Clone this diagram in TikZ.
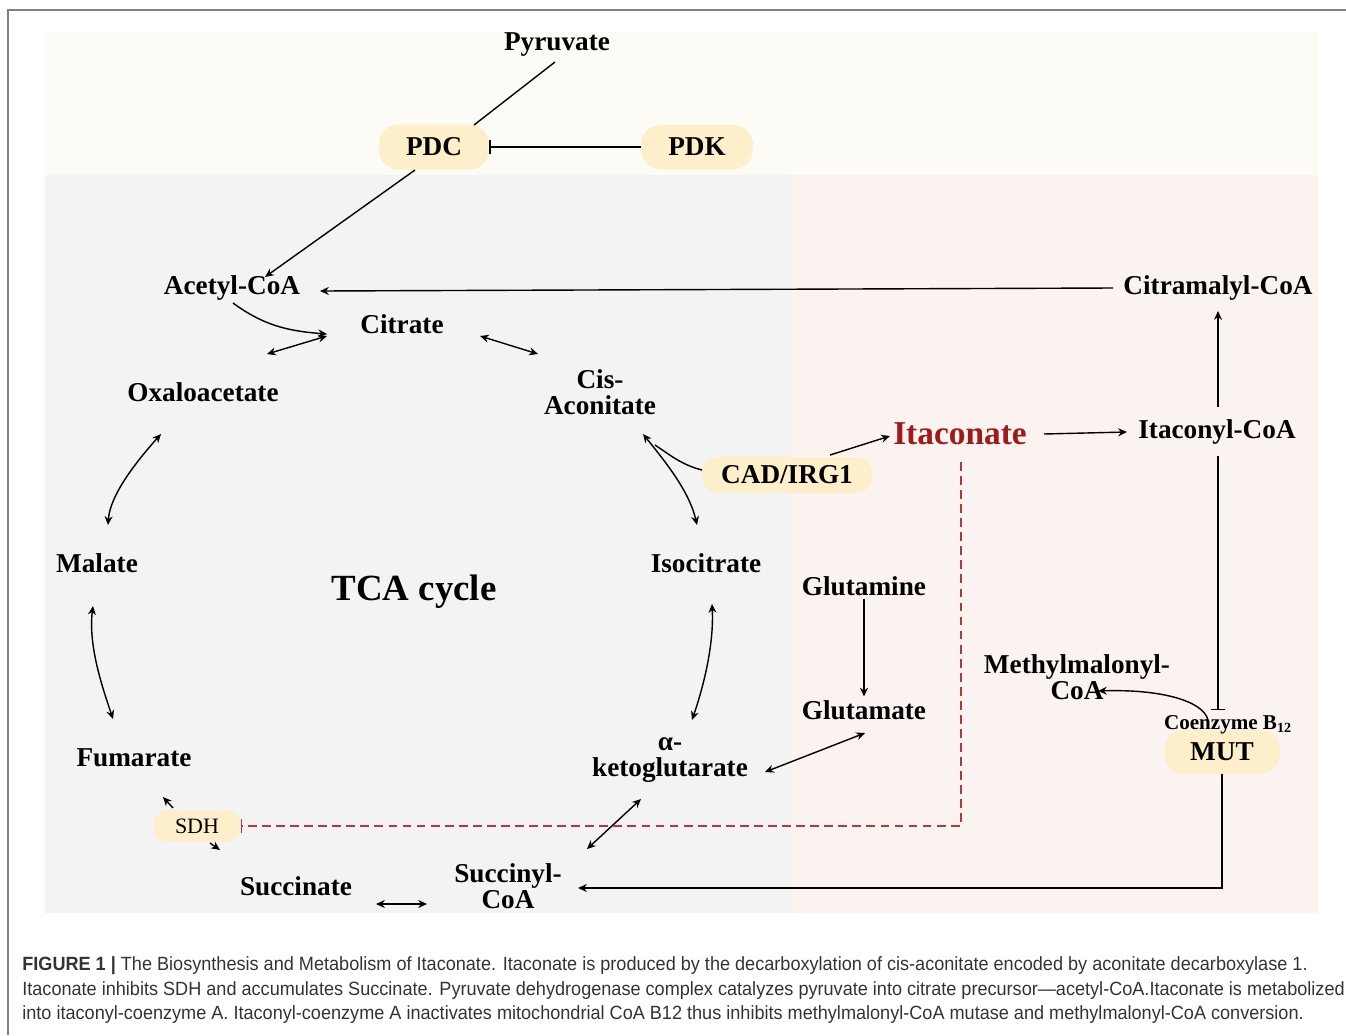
\documentclass[tikz,border=0pt]{standalone}
\usepackage{fontspec}
\setmainfont{Liberation Serif}
\newfontfamily\capfont[FakeStretch=0.945]{Liberation Sans}
\usetikzlibrary{arrows.meta, calc}
\definecolor{topbg}{RGB}{253,251,245}
\definecolor{tcabg}{RGB}{243,243,243}
\definecolor{itabg}{RGB}{250,243,239}
\definecolor{pill}{RGB}{252,239,201}
\definecolor{itared}{RGB}{158,27,27}
\definecolor{dashred}{RGB}{178,56,58}
\definecolor{capgray}{RGB}{51,51,51}

\begin{document}
\begin{tikzpicture}[
  x=0.02cm, y=-0.02cm,
  met/.style={font=\bfseries\fontsize{15.5}{14.8}\selectfont, inner sep=2pt, align=center},
  enzyme/.style={fill=pill, rounded corners=11pt, inner sep=2pt, font=\bfseries\fontsize{15.5}{18}\selectfont},
  arrow/.style={-{Stealth[length=5pt,width=4.5pt]}, line width=0.8pt},
  darrow/.style={{Stealth[length=5pt,width=4.5pt]}-{Stealth[length=5pt,width=4.5pt]}, line width=0.8pt},
  inhib/.style={-{Bar[width=8pt]}, line width=0.8pt},
  caption/.style={anchor=west, inner sep=0pt, text=capgray, font=\capfont\fontsize{10.9}{13}\selectfont},
]
\useasboundingbox (0,0) rectangle (1346,1035);

% backgrounds
\fill[topbg] (45,32) rectangle (1318,175);
\fill[tcabg] (45,175) rectangle (790,913);
\fill[itabg] (790,175) rectangle (1318,913);
\draw[gray, line width=0.6pt] (1346,10) -- (8,10) -- (8,1035);

% enzymes
\node[enzyme, minimum width=2.2cm, minimum height=0.9cm] (pdc) at (434,147) {PDC};
\node[enzyme, minimum width=2.24cm, minimum height=0.88cm] (pdk) at (697,147) {PDK};
\node[enzyme, minimum width=3.4cm, minimum height=0.72cm, rounded corners=9pt] (cad) at (787,475) {CAD/IRG1};
\node[enzyme, minimum width=1.74cm, minimum height=0.64cm, rounded corners=8pt, font=\fontsize{12.5}{14}\selectfont] (sdh) at (197,826) {SDH};
\node[enzyme, minimum width=2.3cm, minimum height=0.88cm] (mut) at (1222,752) {MUT};

% metabolites
\node[met] (pyruvate) at (557,45) {Pyruvate};
\node[met] (acetyl) at (232,288) {Acetyl-CoA};
\node[met] (citramal) at (1218,288) {Citramalyl-CoA};
\node[met] (citrate) at (402,324) {Citrate};
\node[met] (oxalo) at (203,392) {Oxaloacetate};
\node[met] (cisac) at (600,392) {Cis-\\Aconitate};
\node[met] (malate) at (97,563) {Malate};
\node[met] (fumarate) at (134,758) {Fumarate};
\node[met] (succinate) at (296,886) {Succinate};
\node[met] (succoa) at (508,886) {Succinyl-\\CoA};
\node[met] (akg) at (670,760) {α-\\ketoglutarate};
\node[met] (isocit) at (706,563) {Isocitrate};
\node[met] (glutamine) at (864,586) {Glutamine};
\node[met] (glutamate) at (864,710) {Glutamate};
\node[met] (itacoa) at (1217,432) {Itaconyl-CoA};
\node[met] (methyl) at (1077,677) {Methylmalonyl-\\CoA};
\node[met, text=itared, font=\bfseries\fontsize{19}{22}\selectfont] (itac) at (960,434) {Itaconate};
\node[met, font=\bfseries\fontsize{21}{24}\selectfont] (tca) at (414,592) {TCA cycle};
\node[met, font=\bfseries\fontsize{12}{14}\selectfont] (coenz) at (1228,725) {Coenzyme B\textsubscript{12}};

% pyruvate entry
\draw[line width=0.8pt] ($(pyruvate)+(-2,17)$) -- ($(pdc)+(40,-22)$);
\draw[arrow] ($(pdc)+(-19,23)$) -- ($(acetyl)+(33,-11)$);
\draw[inhib] (pdk) -- (pdc);
\draw[arrow] ($(citramal)+(-105,0)$) -- ($(acetyl)+(88,3)$);

% TCA cycle
\draw[arrow] ($(acetyl)+(1,15)$) .. controls +(30,22) and +(-40,-3) .. ($(citrate)+(-75,10)$);
\draw[darrow] ($(citrate)+(-75,12)$) -- ($(oxalo)+(64,-38)$);
\draw[darrow] ($(citrate)+(78,12)$) -- ($(cisac)+(-62,-38)$);
\draw[darrow] ($(oxalo)+(-42,42)$) .. controls +(-25,28) and +(2,-30) .. ($(malate)+(11,-38)$);
\draw[darrow] ($(malate)+(-4,43)$) .. controls +(-5,40) and +(-10,-30) .. ($(fumarate)+(-21,-39)$);
\draw[arrow] ($(sdh)+(-24,-18)$) -- ($(sdh)+(-34,-29)$);
\draw[arrow] ($(sdh)+(13,17)$) -- ($(sdh)+(23,24)$);
\draw[darrow] ($(succinate)+(80,18)$) -- ($(succoa)+(-81,18)$);
\draw[darrow] ($(succoa)+(79,-37)$) -- ($(akg)+(-29,39)$);
\draw[darrow] ($(akg)+(22,-40)$) .. controls +(12,-35) and +(2,40) .. ($(isocit)+(6,41)$);
\draw[darrow] ($(isocit)+(-9,-38)$) .. controls +(-8,-35) and +(20,25) .. ($(cisac)+(43,42)$);

% itaconate branch
\draw[line width=0.8pt] ($(cad)+(-85,-5)$) .. controls +(-20,-5) and +(15,10) .. ($(cisac)+(55,53)$);
\draw[arrow] ($(cad)+(43,-20)$) -- ($(itac)+(-70,2)$);
\draw[arrow] ($(itac)+(84,0)$) -- ($(itacoa)+(-90,0)$);
\draw[arrow] ($(itacoa)+(1,-25)$) -- ($(citramal)+(0,23)$);
\draw[inhib] ($(itacoa)+(1,24)$) -- ($(mut)+(-4,-42)$);
\draw[arrow] (mut.south) |- ($(succoa)+(70,2)$);
\draw[arrow] ($(mut)+(-14,-32)$) .. controls +(-5,-20) and +(60,-2) .. ($(methyl)+(21,14)$);
\draw[arrow] (glutamine) -- (glutamate);
\draw[darrow] ($(glutamate)+(1,23)$) -- ($(akg)+(95,12)$);
\draw[inhib, dashred, dashed, dash pattern=on 5pt off 3pt] ($(itac)+(1,28)$) |- (sdh.east);

% caption
\node[caption] (cap1) at (22,966) {\textbf{FIGURE 1 |} The Biosynthesis and Metabolism of Itaconate. Itaconate is produced by the decarboxylation of cis-aconitate encoded by aconitate decarboxylase 1.};
\node[caption] (cap2) at (22,991) {Itaconate inhibits SDH and accumulates Succinate. Pyruvate dehydrogenase complex catalyzes pyruvate into citrate precursor—acetyl-CoA.Itaconate is metabolized};
\node[caption] (cap3) at (22,1015) {into itaconyl-coenzyme A. Itaconyl-coenzyme A inactivates mitochondrial CoA B12 thus inhibits methylmalonyl-CoA mutase and methylmalonyl-CoA conversion.};
\end{tikzpicture}
\end{document}
